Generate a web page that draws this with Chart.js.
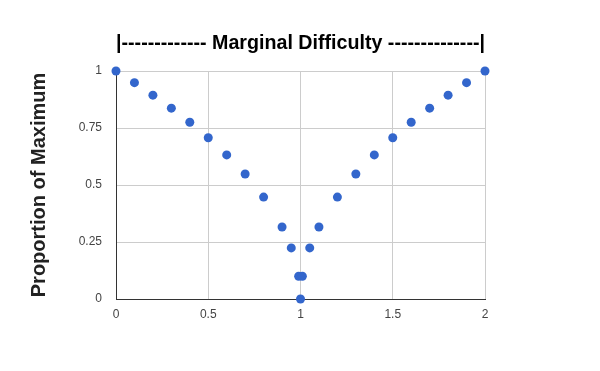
<!DOCTYPE html>
<html>
<head>
<meta charset="utf-8">
<script src="https://cdn.jsdelivr.net/npm/chart.js@4"></script>
<style>
  html, body { margin: 0; padding: 0; background: #fff; }
  #wrap { width: 600px; height: 371px; }
</style>
</head>
<body>
<div id="wrap"><canvas id="chart" width="600" height="371"></canvas></div>
<script>
  // Data
  const xValues = [0, 0.1, 0.2, 0.3, 0.4, 0.5, 0.6, 0.7, 0.8, 0.9, 0.95, 0.99, 1,
                   1.01, 1.05, 1.1, 1.2, 1.3, 1.4, 1.5, 1.6, 1.7, 1.8, 1.9, 2];
  const yValues = [1, 0.949, 0.894, 0.837, 0.775, 0.707, 0.632, 0.548, 0.447, 0.316, 0.224, 0.1, 0,
                   0.1, 0.224, 0.316, 0.447, 0.548, 0.632, 0.707, 0.775, 0.837, 0.894, 0.949, 1];
  const xTicks = [0, 0.5, 1, 1.5, 2];
  const xTickLabels = ['0', '0.5', '1', '1.5', '2'];
  const yTicks = [0, 0.25, 0.5, 0.75, 1];
  const yTickLabels = ['0', '0.25', '0.5', '0.75', '1'];

  const titleText = '|------------- Marginal Difficulty --------------|';
  const yTitleText = 'Proportion of Maximum';

  Chart.defaults.font.family = "'Liberation Sans', Arial, sans-serif";

  const points = xValues.map((x, i) => ({ x: x, y: yValues[i] }));

  new Chart(document.getElementById('chart').getContext('2d'), {
    type: 'scatter',
    data: {
      datasets: [{
        data: points,
        backgroundColor: '#3366cc',
        borderWidth: 0,
        pointRadius: 4.5,
        pointHoverRadius: 4.5,
        clip: false
      }]
    },
    options: {
      responsive: false,
      animation: false,
      layout: { padding: { left: 0, right: 115, top: 0, bottom: 0 } },
      plugins: {
        legend: { display: false },
        tooltip: { enabled: false },
        title: {
          display: true,
          fullSize: false,
          text: titleText,
          color: '#000',
          font: { size: 20, weight: 'bold' },
          padding: { top: 31, bottom: 16 }
        }
      },
      scales: {
        x: {
          type: 'linear',
          min: 0,
          max: 2,
          afterBuildTicks: (scale) => { scale.ticks = xTicks.map(v => ({ value: v })); },
          afterFit: (scale) => { scale.height = 72; },
          ticks: {
            color: '#444',
            font: { size: 12 },
            padding: 8,
            callback: (v) => xTickLabels[xTicks.indexOf(v)]
          },
          grid: { color: '#cccccc', drawTicks: false },
          border: { color: '#333333', width: 1 }
        },
        y: {
          type: 'linear',
          min: 0,
          max: 1,
          afterBuildTicks: (scale) => { scale.ticks = yTicks.map(v => ({ value: v })); },
          afterFit: (scale) => { scale.width = 116; },
          ticks: {
            color: '#444',
            font: { size: 12 },
            padding: 14,
            callback: (v) => yTickLabels[yTicks.indexOf(v)]
          },
          grid: { color: '#cccccc', drawTicks: false },
          border: { color: '#333333', width: 1 },
          title: {
            display: true,
            text: yTitleText,
            color: '#222',
            font: { size: 20, weight: 'bold' },
            padding: { top: 27, bottom: 0 }
          }
        }
      }
    }
  });
</script>
</body>
</html>
